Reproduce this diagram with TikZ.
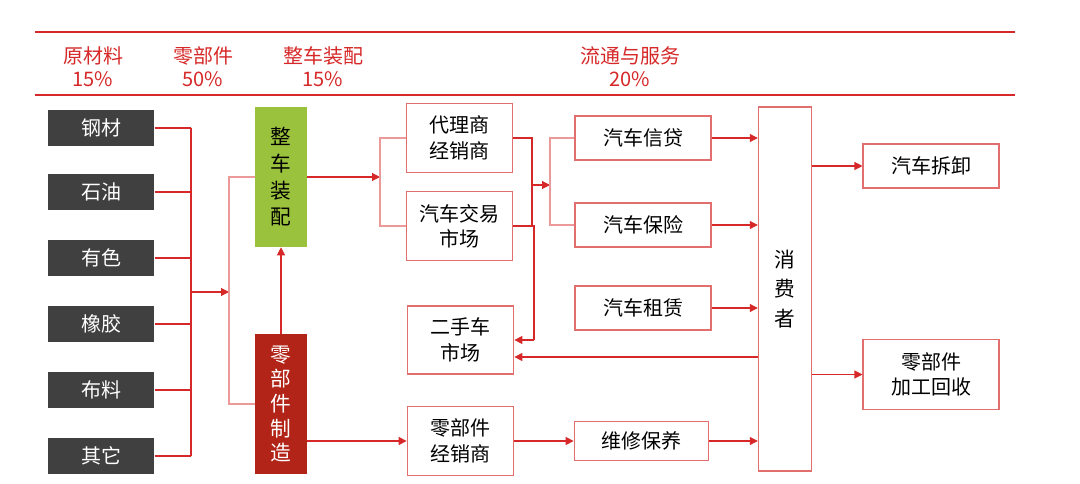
\documentclass[tikz,border=0pt]{standalone}
\usepackage{fontspec}
\setmainfont{Noto Sans CJK SC}
\usetikzlibrary{arrows.meta}
\definecolor{hred}{RGB}{214,40,40}
\definecolor{lred}{RGB}{226,110,110}
\definecolor{dgray}{RGB}{64,64,64}
\definecolor{mgreen}{RGB}{155,194,60}
\definecolor{dred}{RGB}{178,36,24}
\tikzset{
  rawbox/.style={fill=dgray,text=white,minimum width=80pt,minimum height=27pt,inner sep=0pt,font=\fontsize{15}{17}\selectfont},
  wbox/.style={draw=lred,line width=0.8pt,fill=white,align=center,inner sep=0pt,font=\fontsize{15}{19}\selectfont},
  vbox/.style={minimum width=39pt,minimum height=105pt,inner sep=0pt,align=center,font=\fontsize{15.5}{20}\selectfont},
  link/.style={draw=hred,line width=0.8pt},
  plink/.style={draw=lred!70,line width=0.8pt},
  arr/.style={link,-{Triangle[length=6pt,width=6pt]}},
  hdr/.style={text=hred,align=center,font=\fontsize{15}{17}\selectfont}
}
\begin{document}
\begin{tikzpicture}[x=0.75pt,y=0.75pt,yscale=-1,xscale=1]
\useasboundingbox (0,0) rectangle (1080,484);

% header
\draw [hred,line width=1.2pt] (35,32) -- (1015,32);
\draw [hred,line width=1.2pt] (35,95) -- (1015,95);
\node [hdr] (h1) at (93,67) {原材料\\15\%};
\node [hdr] (h2) at (203,67) {零部件\\50\%};
\node [hdr] (h3) at (323,67) {整车装配\\15\%};
\node [hdr] (h4) at (630,67) {流通与服务\\20\%};

% raw materials
\node [rawbox] (r1) at (101,128) {钢材};
\node [rawbox] (r2) at (101,192) {石油};
\node [rawbox] (r3) at (101,258) {有色};
\node [rawbox] (r4) at (101,324) {橡胶};
\node [rawbox] (r5) at (101,390) {布料};
\node [rawbox] (r6) at (101,456) {其它};

% assembly / parts
\node [vbox,fill=mgreen] (zc) at (281,177) {整\\车\\装\\配};
\node [vbox,fill=dred,text=white,font=\fontsize{15.5}{18.5}\selectfont] (lbj) at (281,404) {零\\部\\件\\制\\造};

% dealers
\node [wbox,minimum width=80pt,minimum height=52pt] (dl) at (459.5,138) {代理商\\经销商};
\node [wbox,minimum width=80pt,minimum height=52pt] (jy) at (459.5,226) {汽车交易\\市场};
\node [wbox,minimum width=80pt,minimum height=51pt] (es) at (460.5,340) {二手车\\市场};
\node [wbox,minimum width=80pt,minimum height=52pt] (pj) at (460.5,441) {零部件\\经销商};

% services
\node [wbox,minimum width=102pt,minimum height=33pt] (xd) at (643,138) {汽车信贷};
\node [wbox,minimum width=102pt,minimum height=33pt] (bx) at (643,225) {汽车保险};
\node [wbox,minimum width=102pt,minimum height=33pt] (zl) at (643,308) {汽车租赁};
\node [wbox,minimum width=101pt,minimum height=29pt] (wx) at (641.5,441) {维修保养};

% consumer and after
\node [wbox,minimum width=40pt,minimum height=273pt,font=\fontsize{15.5}{22}\selectfont] (xf) at (785,289) {消\\费\\者};
\node [wbox,minimum width=102pt,minimum height=33pt] (cx) at (931,166) {汽车拆卸};
\node [wbox,minimum width=102pt,minimum height=52pt] (hs) at (931,374.5) {零部件\\加工回收};

% buses
\coordinate (b1) at (191,292);
\coordinate (b2) at (229,292);
\coordinate (b3) at (380,177);
\coordinate (b4) at (532,185);
\coordinate (b5) at (550,185);
\coordinate (b6) at (534,340);

\foreach \r in {r1,r2,r3,r4,r5,r6}
  \draw [link] (\r.east) -- (b1 |- \r.east);
\draw [link] (b1 |- r1.east) -- (b1 |- r6.east);
\draw [arr] (b1) -- (b2);
\draw [plink] (zc.west) -| (b2) |- (lbj.west);
\draw [arr] (lbj.north) -- (zc.south);
\draw [arr] (zc.east) -- (b3);
\draw [plink] (dl.west) -| (b3) |- (jy.west);
\draw [link] (dl.east) -| (b4) |- (jy.east);
\draw [arr] (b4) -- (b5);
\draw [plink] (xd.west) -| (b5) |- (bx.west);
\draw [link] (jy.east) -| (b6);
\draw [arr] (b6) -- (es.east);
\draw [arr] (xf.west |- 0,357) -- (es.east |- 0,357);
\draw [arr] (lbj.east |- pj.west) -- (pj.west);
\draw [arr] (pj.east) -- (wx.west);
\foreach \s in {xd,bx,zl,wx}
  \draw [arr] (\s.east) -- (xf.west |- \s.east);
\draw [arr] (xf.east |- cx.west) -- (cx.west);
\draw [arr] (xf.east |- hs.west) -- (hs.west);

\end{tikzpicture}
\end{document}
